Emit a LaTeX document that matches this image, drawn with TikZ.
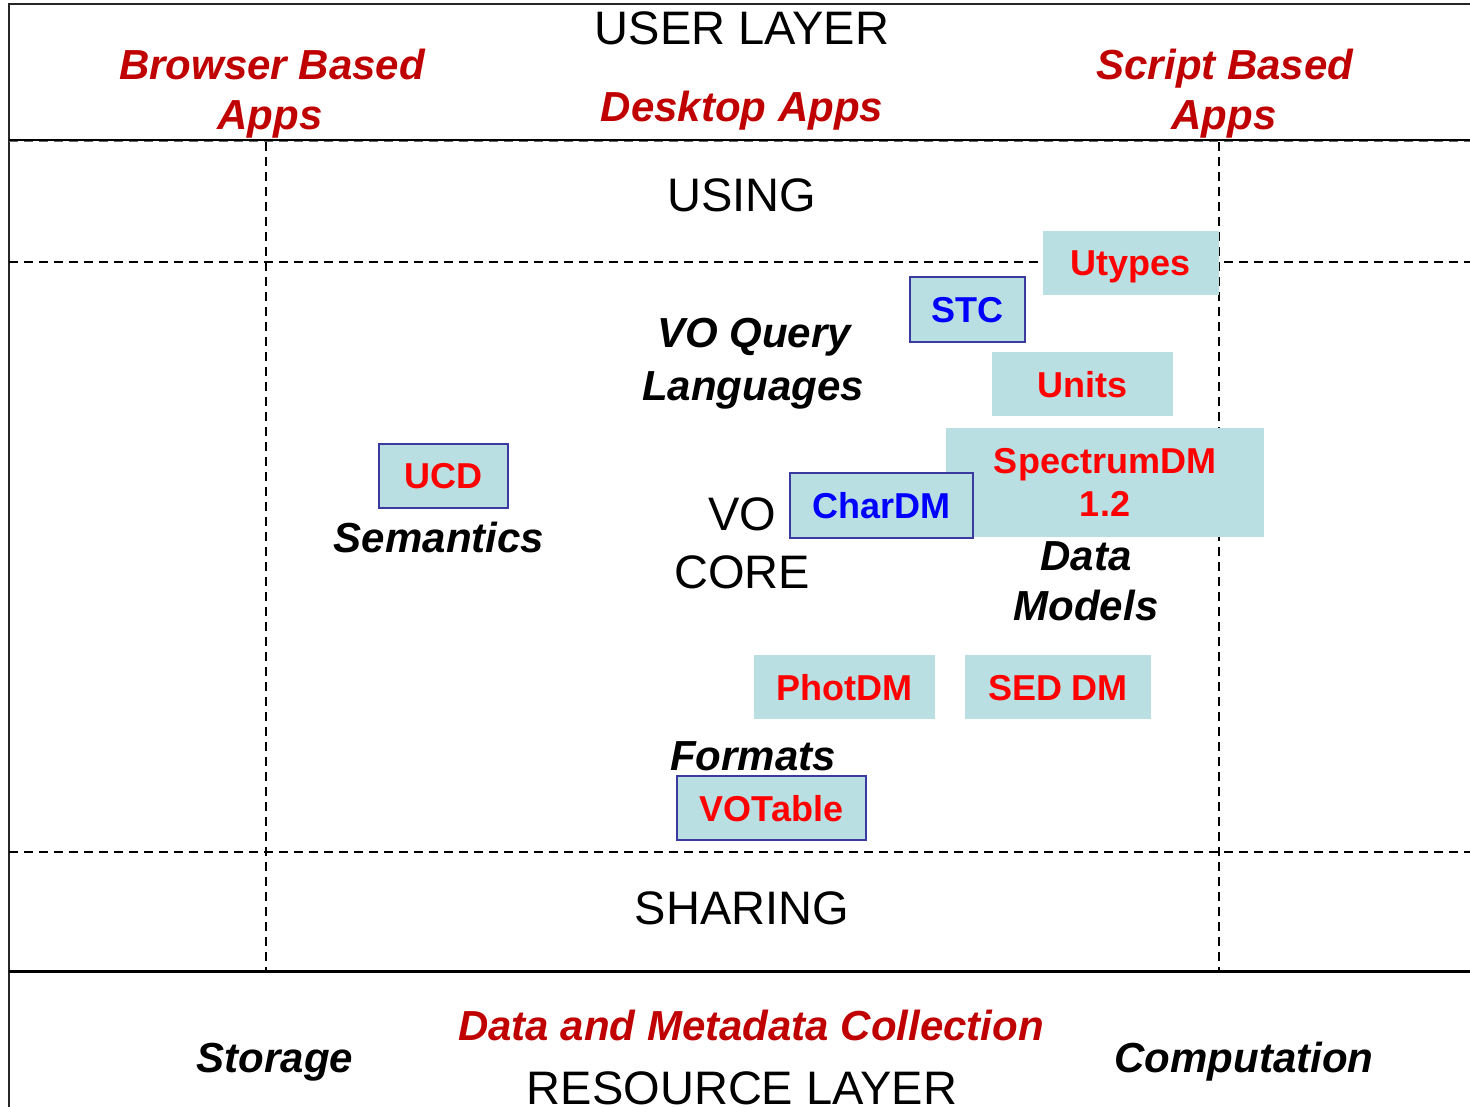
\documentclass[tikz,border=0pt]{standalone}
\usepackage{fontspec}
\setmainfont{Liberation Sans}
\definecolor{boxfill}{HTML}{B9DFE2}
\definecolor{boxred}{HTML}{FF0000}
\definecolor{boxblue}{HTML}{0000FF}
\definecolor{darkred}{HTML}{C00000}
\definecolor{framecol}{HTML}{3A3AA0}
\begin{document}
\begin{tikzpicture}[x=1pt,y=-1pt,
  lbl/.style={inner sep=0pt, anchor=base},
  reg/.style={lbl, font=\fontsize{47}{56}\selectfont},
  bi/.style={lbl, font=\fontsize{42}{50}\selectfont\bfseries\itshape},
  dmbox/.style={fill=boxfill, inner sep=0pt, text height=26pt, text depth=0pt,
    font=\fontsize{36}{43}\selectfont\bfseries, text=boxred},
  framed/.style={draw=framecol, line width=2pt},
  dline/.style={line width=2pt, dash pattern=on 9pt off 6pt},
  solidline/.style={line width=2.5pt}
]
\useasboundingbox (0,0) rectangle (1470,1107);

% frame and layer lines
\coordinate (tl) at (9,4);
\coordinate (tr) at (1470,4);
\coordinate (bl) at (9,1107);
\draw[line width=2pt, black!85] (tr) -- (tl) -- (bl);
\coordinate (h1l) at (9,141); \coordinate (h1r) at (1470,141);
\draw[dline, black!60] (h1l) -- (h1r);
\draw[solidline] ([yshift=1pt]h1l) -- ([yshift=1pt]h1r);
\coordinate (h2l) at (9,262); \coordinate (h2r) at (1470,262);
\draw[dline] (h2l) -- (h2r);
\coordinate (h3l) at (9,852); \coordinate (h3r) at (1470,852);
\draw[dline] (h3l) -- (h3r);
\coordinate (h4l) at (9,971); \coordinate (h4r) at (1470,971);
\draw[line width=3pt] (h4l) -- (h4r);
\coordinate (v1t) at (266,142); \coordinate (v1b) at (266,970);
\draw[dline] (v1t) -- (v1b);
\coordinate (v2t) at (1219,142); \coordinate (v2b) at (1219,970);
\draw[dline] (v2t) -- (v2b);

% user layer
\node[reg] (user) at (742,45) {USER LAYER};
\node[bi, text=darkred] (brow1) at (272,80) {Browser Based};
\node[bi, text=darkred] (brow2) at (270,130) {Apps};
\node[bi, text=darkred] (desk) at (742,122) {Desktop Apps};
\node[bi, text=darkred] (scr1) at (1225,80) {Script Based};
\node[bi, text=darkred] (scr2) at (1224,130) {Apps};

% using
\node[reg] (using) at (742,212) {USING};

% boxes
\node[dmbox, minimum width=176pt, minimum height=64pt] (utypes) at (1131,263) {Utypes};
\node[dmbox, framed, text=boxblue, minimum width=115pt, minimum height=65pt] (stc) at (967.5,309.5) {STC};
\node[dmbox, minimum width=181pt, minimum height=64pt] (units) at (1082.5,384) {Units};
\node[fill=boxfill, inner sep=0pt, align=center, text=boxred,
  font=\fontsize{36}{43}\selectfont\bfseries,
  minimum width=318pt, minimum height=109pt] (spec) at (1105,482.5) {SpectrumDM\\1.2};
\node[dmbox, framed, text=boxblue, minimum width=183pt, minimum height=65pt] (chardm) at (881.5,505.5) {CharDM};
\node[dmbox, framed, minimum width=129pt, minimum height=64pt] (ucd) at (443.5,475.5) {UCD};
\node[dmbox, minimum width=181pt, minimum height=64pt] (photdm) at (844.5,687) {PhotDM};
\node[dmbox, minimum width=186pt, minimum height=64pt] (seddm) at (1058,687) {SED DM};
\node[dmbox, framed, minimum width=189pt, minimum height=64pt] (votable) at (771.5,808) {VOTable};

% core labels
\node[bi] (voq1) at (754,348) {VO Query};
\node[bi] (voq2) at (753,400) {Languages};
\node[bi] (sem) at (439,552) {Semantics};
\node[reg] (vo) at (742,530) {VO};
\node[reg] (core) at (742,588) {CORE};
\node[bi] (dm1) at (1086,570) {Data};
\node[bi] (dm2) at (1086,620) {Models};
\node[bi] (formats) at (753,770) {Formats};

% sharing
\node[reg] (sharing) at (742,924) {SHARING};

% resource layer
\node[bi] (storage) at (275,1072) {Storage};
\node[bi, text=darkred] (dmc) at (751,1040) {Data and Metadata Collection};
\node[bi] (comp) at (1244,1072) {Computation};
\node[reg] (res) at (742,1104) {RESOURCE LAYER};
\end{tikzpicture}
\end{document}
